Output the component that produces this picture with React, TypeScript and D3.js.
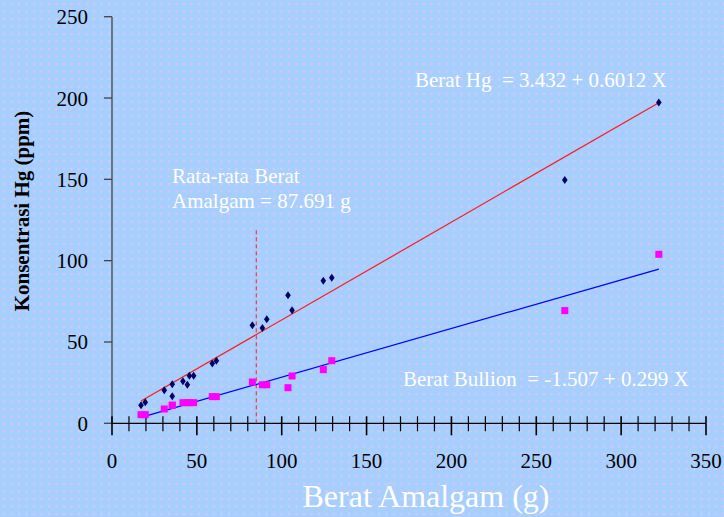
import React, { useEffect, useRef } from "react";
import * as d3 from "d3";

// Berat amalgam (g) and measured concentrations (ppm)
const amalgam = [17.1, 19.6, 30.8, 35.5, 35.5, 41.8, 44.4, 45.6, 48.1, 59.1, 61.5, 82.7, 88.6, 91.2, 103.7, 106.1, 124.5, 129.5, 266.8, 322.2];
const beratHg = [11.1, 12.9, 20.3, 24.0, 16.6, 25.8, 23.7, 29.3, 29.3, 36.7, 38.5, 60.3, 58.6, 64.0, 78.7, 69.5, 87.7, 89.5, 149.6, 197.2];
const beratBullion = [5.3, 5.3, 8.8, 11.1, 11.1, 12.7, 12.7, 12.7, 12.7, 16.4, 16.4, 25.4, 23.7, 23.7, 21.9, 29.1, 33.0, 38.5, 69.3, 103.9];

// regression coefficients [intercept, slope]
const fitHg = [3.432, 0.6012];
const fitBullion = [-1.507, 0.299];
// dashed marker as drawn in the picture (labelled 87.691 g)
const meanLineX = 85.0;
const meanLineTop = 120;

const xTicks = [0, 50, 100, 150, 200, 250, 300, 350];
const yTicks = [0, 50, 100, 150, 200, 250];

const W = 724;
const H = 517;
const serif = "'Liberation Serif', 'Times New Roman', serif";

function Chart() {
    const ref = useRef(null);

    useEffect(() => {
        const svg = d3.select(ref.current);
        svg.selectAll("*").remove();

        const x = d3.scaleLinear().domain([0, 350]).range([112, 706]);
        const y = d3.scaleLinear().domain([0, 250]).range([423.3, 16.7]);

        // dotted background
        const defs = svg.append("defs");
        const pat = defs.append("pattern")
            .attr("id", "dots")
            .attr("patternUnits", "userSpaceOnUse")
            .attr("width", 7.5)
            .attr("height", 7.5);
        pat.append("rect").attr("width", 7.5).attr("height", 7.5).attr("fill", "#a6cffd");
        pat.append("rect").attr("x", 3).attr("y", 3).attr("width", 2).attr("height", 2).attr("fill", "#e6c3f3");
        svg.append("rect").attr("width", W).attr("height", H).attr("fill", "url(#dots)");

        // y axis
        const ya = svg.append("g");
        ya.append("line")
            .attr("x1", x(0)).attr("x2", x(0))
            .attr("y1", y(250)).attr("y2", y(0))
            .attr("stroke", "#444").attr("stroke-width", 1.3);
        ya.selectAll("line.t").data(yTicks).join("line")
            .attr("class", "t")
            .attr("x1", x(0) - 8).attr("x2", x(0))
            .attr("y1", d => y(d)).attr("y2", d => y(d))
            .attr("stroke", "#444").attr("stroke-width", 1.3);
        ya.selectAll("text").data(yTicks).join("text")
            .attr("x", 88).attr("y", d => y(d) + 7.5)
            .attr("text-anchor", "end")
            .attr("font-family", serif).attr("font-size", 21)
            .attr("fill", "#000")
            .text(d => d);

        // x axis
        const xa = svg.append("g");
        xa.append("line")
            .attr("x1", x(0)).attr("x2", x(350))
            .attr("y1", y(0)).attr("y2", y(0))
            .attr("stroke", "#000").attr("stroke-width", 1.3);
        xa.selectAll("line.t").data(d3.range(0, 351, 10)).join("line")
            .attr("class", "t")
            .attr("x1", d => x(d)).attr("x2", d => x(d))
            .attr("y1", y(0) - 7)
            .attr("y2", d => y(0) + (d % 50 === 0 ? 12 : 8))
            .attr("stroke", "#000").attr("stroke-width", d => d % 50 === 0 ? 1.6 : 1.2);
        xa.selectAll("text").data(xTicks).join("text")
            .attr("x", d => x(d)).attr("y", 468)
            .attr("text-anchor", "middle")
            .attr("font-family", serif).attr("font-size", 21)
            .attr("fill", "#000")
            .text(d => d);

        // mean amalgam line
        svg.append("line")
            .attr("x1", x(meanLineX)).attr("x2", x(meanLineX))
            .attr("y1", y(0)).attr("y2", y(meanLineTop))
            .attr("stroke", "#ff2020").attr("stroke-width", 1)
            .attr("stroke-dasharray", "4,3");

        // regression lines
        const [xmin, xmax] = d3.extent(amalgam);
        const fits = [
            { c: fitHg, color: "#ff1a1a" },
            { c: fitBullion, color: "#0000ff" },
        ];
        svg.selectAll("line.fit").data(fits).join("line")
            .attr("class", "fit")
            .attr("x1", x(xmin)).attr("x2", x(xmax))
            .attr("y1", d => y(d.c[0] + d.c[1] * xmin))
            .attr("y2", d => y(d.c[0] + d.c[1] * xmax))
            .attr("stroke", d => d.color).attr("stroke-width", 1.2);

        // bullion squares
        svg.selectAll("rect.bul").data(amalgam).join("rect")
            .attr("class", "bul")
            .attr("x", (d) => x(d) - 3.5)
            .attr("y", (d, i) => y(beratBullion[i]) - 3.5)
            .attr("width", 7).attr("height", 7)
            .attr("fill", "#ff00ff");

        // Hg diamonds
        const diamond = "M0,-4 L2.8,0 L0,4 L-2.8,0 Z";
        svg.selectAll("path.hg").data(amalgam).join("path")
            .attr("class", "hg")
            .attr("d", diamond)
            .attr("transform", (d, i) => `translate(${x(d)},${y(beratHg[i])})`)
            .attr("fill", "#000066");

        // annotations
        const notes = [
            { t: "Rata-rata Berat", x: 172, y: 183 },
            { t: "Amalgam = 87.691 g", x: 172, y: 208 },
            { t: "Berat Hg  = 3.432 + 0.6012 X", x: 415, y: 87 },
            { t: "Berat Bullion  = -1.507 + 0.299 X", x: 403, y: 386 },
        ];
        svg.selectAll("text.note").data(notes).join("text")
            .attr("class", "note")
            .attr("x", d => d.x).attr("y", d => d.y)
            .attr("font-family", serif).attr("font-size", 21)
            .attr("fill", "#ffffff")
            .style("white-space", "pre")
            .text(d => d.t);

        // axis titles
        svg.append("text")
            .attr("x", 426).attr("y", 507)
            .attr("text-anchor", "middle")
            .attr("font-family", serif).attr("font-size", 32)
            .attr("fill", "#ffffff")
            .text("Berat Amalgam (g)");
        svg.append("text")
            .attr("transform", "translate(28.5,211) rotate(-90)")
            .attr("text-anchor", "middle")
            .attr("font-family", serif).attr("font-size", 21)
            .attr("font-weight", "bold")
            .attr("fill", "#000")
            .text("Konsentrasi Hg (ppm)");
    }, []);

    return <svg ref={ref} width={W} height={H} style={{ position: "absolute", left: 0, top: 0 }}></svg>;
}

export default function App() {
    return <Chart />;
}
